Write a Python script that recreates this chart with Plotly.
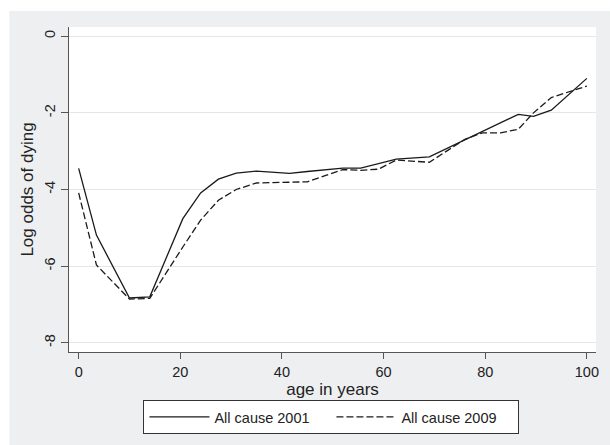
import plotly.graph_objects as go

ages = [0, 3.5, 10, 14, 20.5, 24, 27.5, 31, 35, 41.5, 45, 48.5, 52, 55.5, 59, 62.5,
        69, 76, 79.5, 83, 86.5, 89.5, 93, 100]
all_cause_2001 = [-3.45, -5.19, -6.83, -6.80, -4.76, -4.09, -3.73, -3.57, -3.52, -3.58,
                  -3.53, -3.48, -3.44, -3.44, -3.32, -3.21, -3.15, -2.71, -2.50, -2.27,
                  -2.04, -2.09, -1.93, -1.10]
all_cause_2009 = [-4.09, -5.97, -6.86, -6.84, -5.50, -4.80, -4.28, -4.00, -3.83, -3.82,
                  -3.80, -3.64, -3.48, -3.50, -3.47, -3.23, -3.29, -2.69, -2.52, -2.52,
                  -2.43, -2.00, -1.60, -1.30]
x_ticks = [0, 20, 40, 60, 80, 100]
y_ticks = [0, -2, -4, -6, -8]

FONT = "Liberation Sans, Arial, sans-serif"
GRAY = "#eeeff1"

fig = go.Figure()
fig.add_trace(go.Scatter(x=ages, y=all_cause_2001, mode="lines", name="All cause 2001",
                         line=dict(color="#1a1a1a", width=1.3)))
fig.add_trace(go.Scatter(x=ages, y=all_cause_2009, mode="lines", name="All cause 2009",
                         line=dict(color="#1a1a1a", width=1.3, dash="7px,3px")))

L, R, T, B = 69, 11, 27, 93
W, H = 610, 445
pw, ph = W - L - R, H - T - B

def px2x(p):
    return (p - L) / pw

def py2y(p):
    return (H - B - p) / ph

shapes = [
    dict(type="rect", xref="paper", yref="paper", x0=px2x(-5), x1=px2x(9), y0=py2y(460), y1=py2y(-5),
         fillcolor="white", line=dict(width=0), layer="below"),
    dict(type="rect", xref="paper", yref="paper", x0=px2x(-5), x1=px2x(620), y0=py2y(11), y1=py2y(-5),
         fillcolor="white", line=dict(width=0), layer="below"),
]

fig.update_layout(
    width=W, height=H,
    margin=dict(l=L, r=R, t=T, b=B),
    paper_bgcolor=GRAY, plot_bgcolor="white",
    font=dict(family=FONT, size=14.5, color="#222222"),
    shapes=shapes,
    showlegend=True,
    legend=dict(orientation="h", x=0.498, xanchor="center", y=py2y(400), yanchor="top",
                bgcolor="white", bordercolor="#333333", borderwidth=1,
                font=dict(size=14.5), itemwidth=60, entrywidth=112, entrywidthmode="pixels",
                tracegroupgap=0),
    xaxis=dict(range=[-1.9, 101.8], tickvals=x_ticks, ticks="outside", ticklen=6,
               tickcolor="#555555", showgrid=False, zeroline=False,
               showline=True, linecolor="#555555", linewidth=1.3,
               title=dict(text="age in years", standoff=2), tickfont=dict(size=14.5)),
    yaxis=dict(range=[-8.24, 0.24], tickvals=y_ticks, ticktext=[str(v) for v in y_ticks],
               ticks="outside", ticklen=7, tickcolor="#555555", tickangle=-90,
               showgrid=True, gridcolor="#e6e6e6", gridwidth=1, zeroline=False,
               showline=True, linecolor="#555555", linewidth=1.3,
               title=dict(text="Log odds of dying", standoff=4), tickfont=dict(size=14.5)),
)

fig.write_html("out.html")
